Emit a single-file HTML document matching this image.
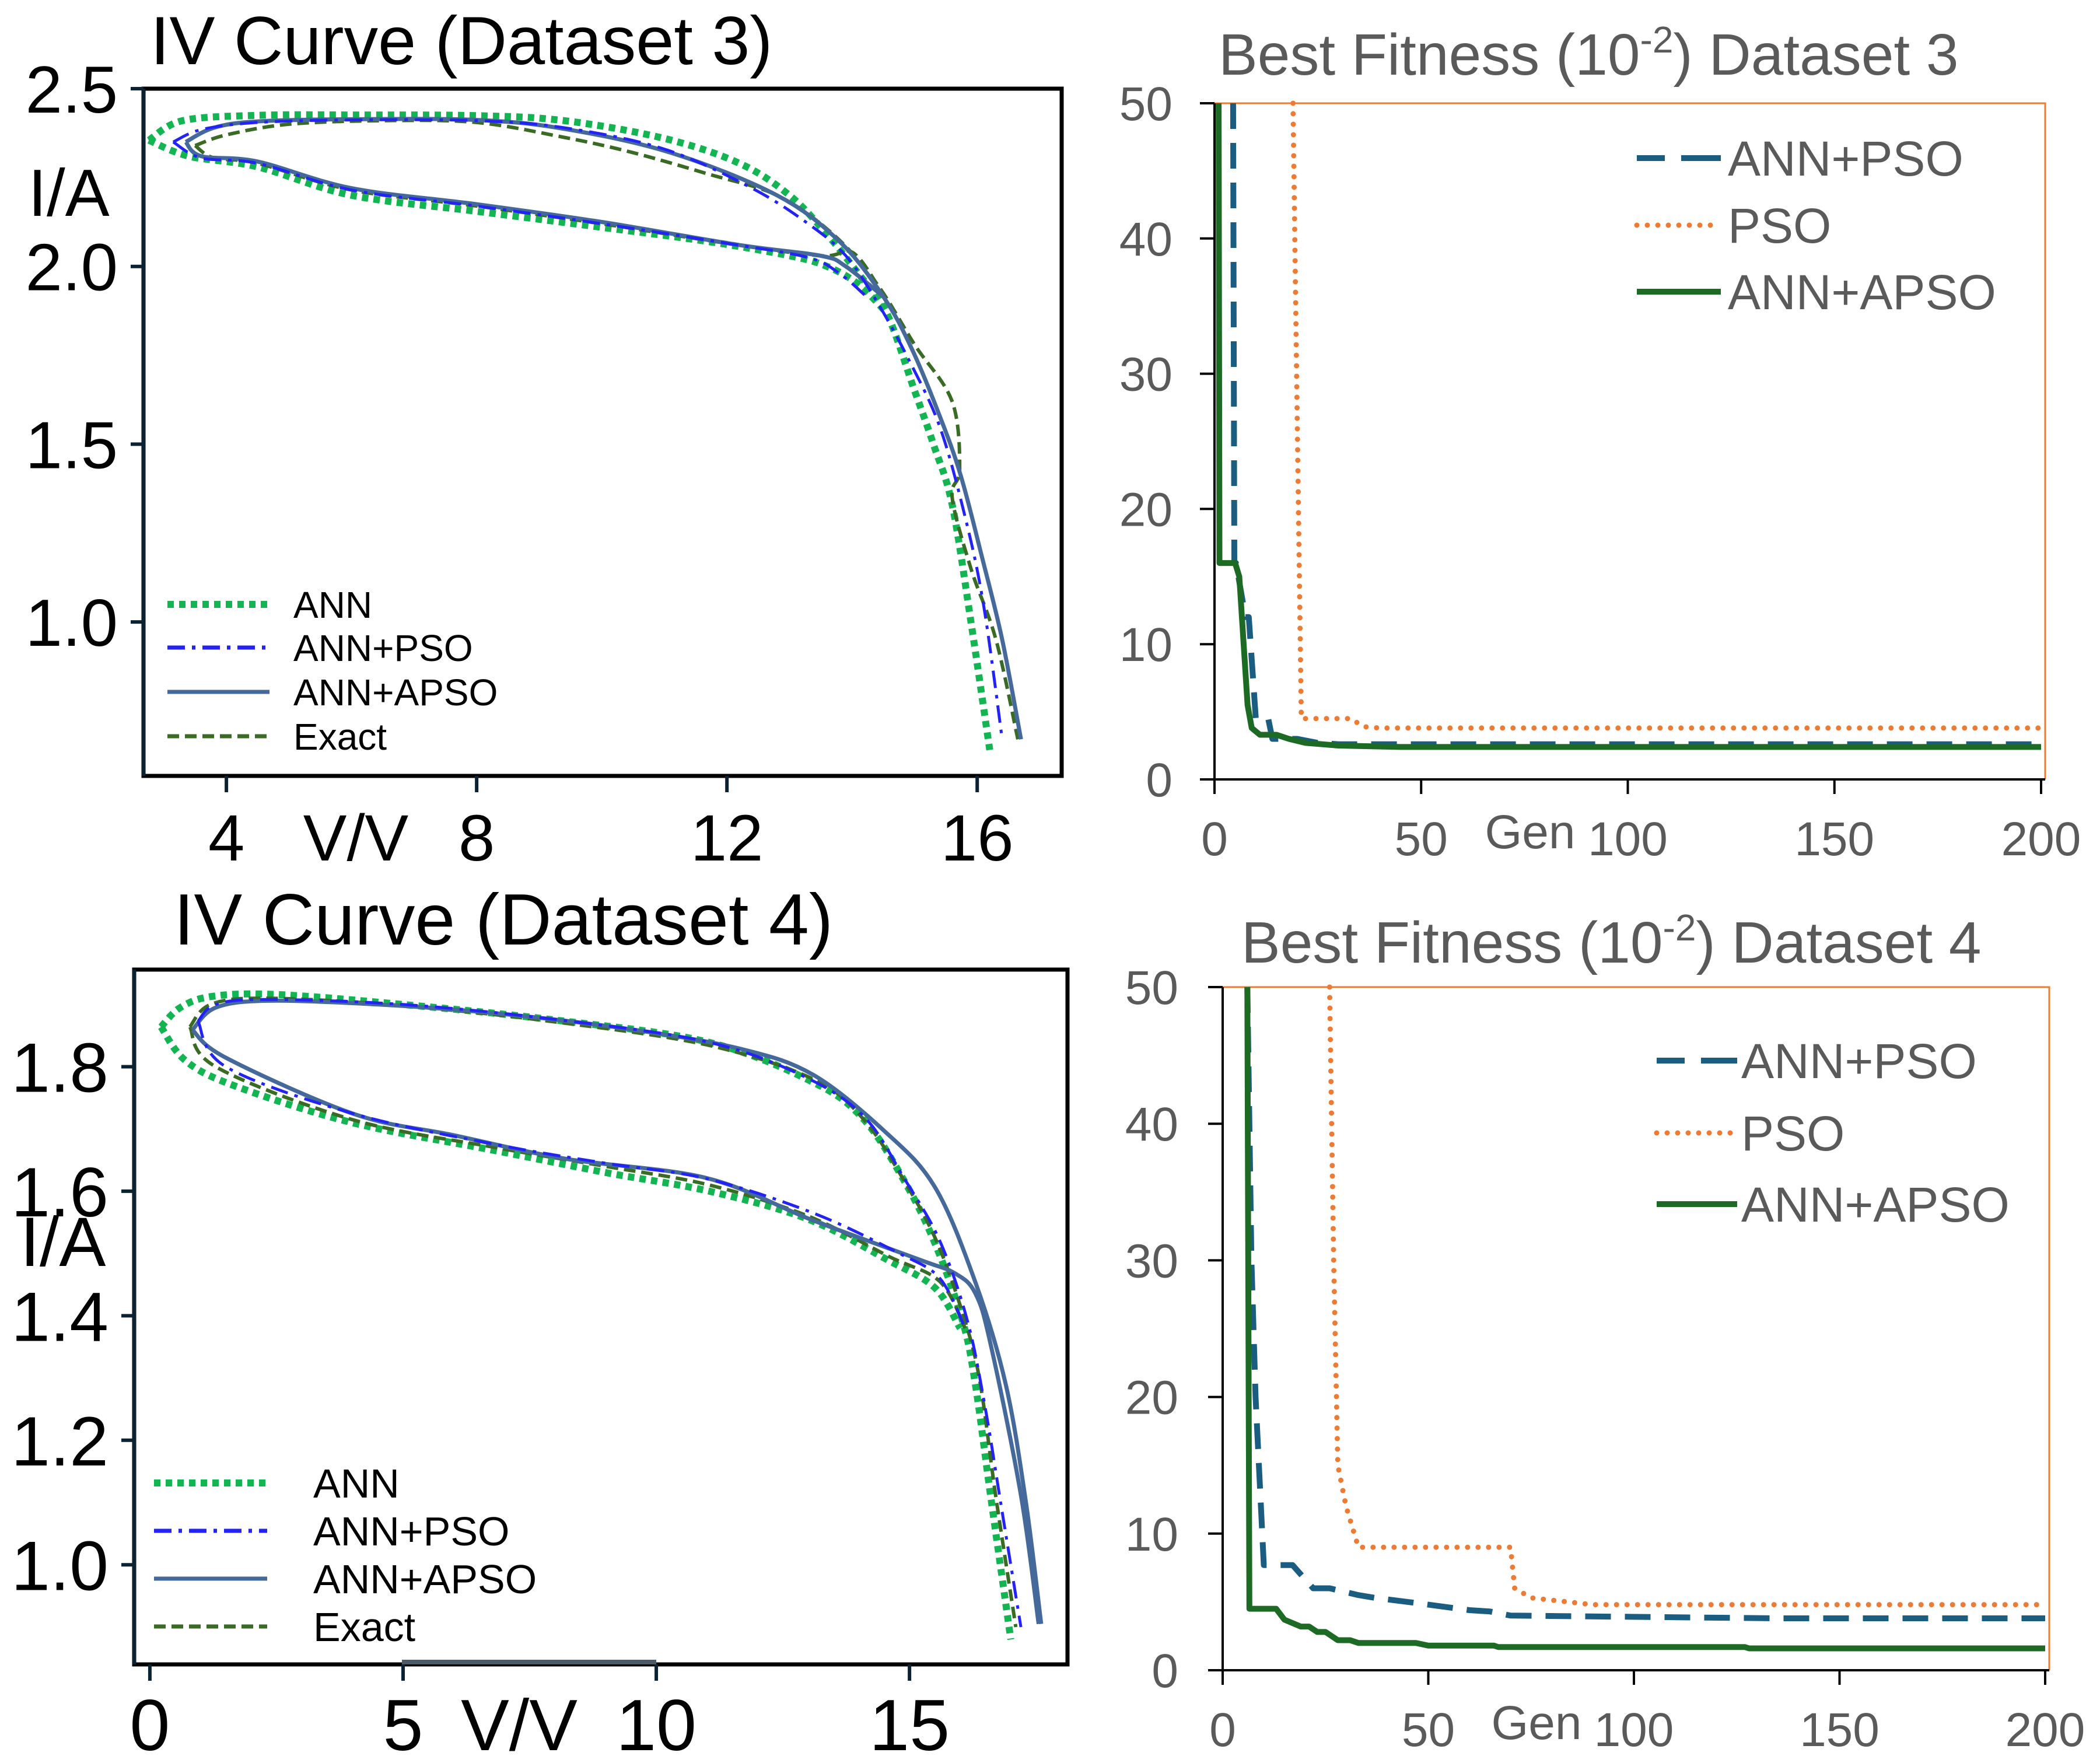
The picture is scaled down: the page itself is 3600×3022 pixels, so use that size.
<!DOCTYPE html>
<html><head><meta charset="utf-8"><title>IV Curves and Best Fitness</title>
<style>
html,body{margin:0;padding:0;background:#fff;}
svg{display:block;}
text{font-family:"Liberation Sans",Arial,sans-serif;}
</style></head>
<body>
<svg id="fig" width="3600" height="3022" viewBox="0 0 3600 3022" xmlns="http://www.w3.org/2000/svg">
<rect width="3600" height="3022" fill="#fff"/>
<g id="p1"></g>
<g id="p2"></g>
<g id="p3"></g>
<g id="p4"></g>
</svg>
<script>
// ---------- Data: IV curve dataset 3 (V, I) ----------
const ds3AnnUpperV = [2.76,3.3,4.5,6.0,8.0,9.4,11.0,12.2,13.0,13.6,14.1,14.55,15.0,15.3,15.6,15.9,16.2];
const ds3AnnUpperI = [2.355,2.41,2.425,2.426,2.424,2.41,2.36,2.29,2.2,2.09,1.98,1.87,1.65,1.5,1.33,1.0,0.64];
const ds3AnnLowerV = [2.76,3.4,4.5,6.0,8.0,10.0,11.7,13.0,13.6,14.1,14.55];
const ds3AnnLowerI = [2.355,2.31,2.28,2.2,2.155,2.11,2.07,2.03,2.0,1.95,1.87];
const ds3PsoUpperV = [3.15,3.6,4.5,6.0,8.0,9.4,11.0,12.4,13.3,13.9,14.4,14.9,15.4,15.8,16.1,16.4];
const ds3PsoUpperI = [2.35,2.385,2.405,2.412,2.41,2.39,2.33,2.22,2.12,2.03,1.9,1.74,1.55,1.3,1.05,0.67];
const ds3PsoLowerV = [3.15,3.6,4.5,6.0,8.0,10.0,12.0,13.3,13.8,14.2];
const ds3PsoLowerI = [2.35,2.305,2.29,2.215,2.17,2.12,2.065,2.025,1.98,1.92];
const ds3ApsoUpperV = [3.35,3.8,4.5,6.0,8.0,9.4,11.1,12.8,13.8,14.5,14.95,15.4,15.74,16.08,16.4,16.7];
const ds3ApsoUpperI = [2.35,2.39,2.408,2.414,2.412,2.387,2.32,2.2,2.07,1.915,1.77,1.58,1.41,1.18,0.95,0.67];
const ds3ApsoLowerV = [3.35,3.6,4.5,6.0,8.0,10.0,12.2,13.5,13.9,14.5];
const ds3ApsoLowerI = [2.35,2.31,2.295,2.22,2.175,2.125,2.06,2.03,2.0,1.915];
const ds3ExactUpperV = [3.5,4.0,5.0,6.5,8.0,9.4,10.5,11.7,12.8,13.7,14.4,15.0,15.6,15.72,15.6,15.9,16.3,16.65];
const ds3ExactUpperI = [2.34,2.37,2.4,2.41,2.405,2.363,2.32,2.26,2.2,2.09,1.95,1.78,1.62,1.43,1.35,1.15,0.95,0.67];
const ds3ExactLowerV = [3.5,3.8,4.5,6.0,8.0,10.0,12.0,13.5,14.0,14.4];
const ds3ExactLowerI = [2.34,2.305,2.29,2.215,2.17,2.12,2.065,2.03,2.04,1.95];

// ---------- Data: IV curve dataset 4 ----------
const ds4AnnUpperV = [0.22,0.6,1.23,2.5,5.0,8.0,11.0,13.1,14.1,14.9,15.5,16.05,16.3,16.6,17.0];
const ds4AnnUpperI = [1.864,1.895,1.913,1.916,1.9,1.875,1.84,1.775,1.715,1.616,1.517,1.391,1.29,1.112,0.88];
const ds4AnnLowerV = [0.22,0.7,1.65,4.0,6.84,9.0,11.05,13.0,14.56,15.5,16.0];
const ds4AnnLowerI = [1.864,1.81,1.77,1.71,1.665,1.63,1.6,1.555,1.49,1.445,1.38];
const ds4PsoUpperV = [0.95,1.3,2.3,5.0,8.0,11.0,12.9,14.1,14.9,15.6,16.15,16.5,16.8,17.2];
const ds4PsoUpperI = [1.873,1.9,1.908,1.9,1.876,1.84,1.785,1.72,1.62,1.52,1.39,1.25,1.1,0.9];
const ds4PsoLowerV = [0.95,1.5,4.0,6.84,9.0,11.0,13.1,14.8,15.6,16.1];
const ds4PsoLowerI = [1.873,1.8,1.725,1.675,1.645,1.62,1.565,1.5,1.46,1.38];
const ds4ApsoUpperV = [0.84,1.3,2.35,4.5,6.8,9.5,11.7,13.1,14.5,15.5,16.3,16.9,17.3,17.6];
const ds4ApsoUpperI = [1.859,1.895,1.906,1.9,1.886,1.86,1.828,1.787,1.697,1.607,1.454,1.29,1.1,0.905];
const ds4ApsoLowerV = [0.84,1.51,4.03,6.0,8.22,11.0,13.1,15.2,15.9,16.3,16.6,17.2,17.55];
const ds4ApsoLowerI = [1.859,1.814,1.724,1.69,1.652,1.621,1.553,1.49,1.468,1.436,1.355,1.112,0.905];
const ds4ExactUpperV = [0.79,1.2,2.3,5.0,8.0,11.0,13.1,14.1,14.9,15.55,16.1,16.4,16.7,17.1];
const ds4ExactUpperI = [1.864,1.9,1.91,1.898,1.872,1.835,1.78,1.715,1.616,1.517,1.391,1.29,1.112,0.9];
const ds4ExactLowerV = [0.79,1.3,4.0,6.84,9.0,11.05,13.0,14.6,15.6,16.1];
const ds4ExactLowerI = [1.864,1.8,1.715,1.67,1.64,1.61,1.56,1.495,1.455,1.38];

// ---------- Data: Best fitness dataset 3 (generation, fitness) ----------
const fit3PsoGen = [19,20,21,33,36,40,200];
const fit3PsoVal = [50,27,4.5,4.5,3.9,3.8,3.8];
const fit3AnnPsoGen = [4.5,4.8,5.2,7.5,8.3,10,13,14,20,25,30,200];
const fit3AnnPsoVal = [50,16,16,12,12,4.5,4.5,3,3,2.7,2.6,2.6];
const fit3ApsoGen = [1,1.2,5,6,8,9,11,15,18,22,30,45,200];
const fit3ApsoVal = [50,16,16,15,5.5,3.8,3.3,3.3,3,2.7,2.5,2.4,2.4];

// ---------- Data: Best fitness dataset 4 ----------
const fit4PsoGen = [26,27,28,30,32,33,70,71,75,90,200];
const fit4PsoVal = [50,30,15,12,10,9,9,6,5.3,4.8,4.8];
const fit4AnnPsoGen = [6,7,8,10,17,22,26,33,37,45,50,60,65,70,135,200];
const fit4AnnPsoVal = [50,30,20,7.7,7.7,6,6,5.5,5.3,5,4.8,4.4,4.3,4,3.8,3.8];
const fit4ApsoGen = [6,6.5,13,15,19,21,23,25,28,31,33,47,50,66,67,127,128,200];
const fit4ApsoVal = [50,4.5,4.5,3.7,3.2,3.2,2.8,2.8,2.2,2.2,2.0,2.0,1.8,1.8,1.7,1.7,1.6,1.6];

// ---------- Tick labels ----------
const ds3XTicks = [4,8,12,16];
const ds3YTicks = ["1.0","1.5","2.0","2.5"];
const ds4XTicks = [0,5,10,15];
const ds4YTicks = ["1.0","1.2","1.4","1.6","1.8"];
const fitXTicks = [0,50,100,150,200];
const fitYTicks = [0,10,20,30,40,50];

const NS = "http://www.w3.org/2000/svg";
function mk(parent, tag, attrs, text){
  const e = document.createElementNS(NS, tag);
  for (const k in attrs) e.setAttribute(k, attrs[k]);
  if (text !== undefined) e.textContent = text;
  parent.appendChild(e);
  return e;
}
function lin(d0,d1,r0,r1){ return v => r0 + (v-d0)/(d1-d0)*(r1-r0); }
function smoothPath(pts){
  if (pts.length < 3) return "M" + pts.map(p=>p.join(",")).join("L");
  let d = "M" + pts[0][0].toFixed(1) + "," + pts[0][1].toFixed(1);
  for (let i=0;i<pts.length-1;i++){
    const p0 = pts[Math.max(0,i-1)], p1 = pts[i], p2 = pts[i+1], p3 = pts[Math.min(pts.length-1,i+2)];
    const c1x = p1[0]+(p2[0]-p0[0])/6, c1y = p1[1]+(p2[1]-p0[1])/6;
    const c2x = p2[0]-(p3[0]-p1[0])/6, c2y = p2[1]-(p3[1]-p1[1])/6;
    d += "C"+c1x.toFixed(1)+","+c1y.toFixed(1)+" "+c2x.toFixed(1)+","+c2y.toFixed(1)+" "+p2[0].toFixed(1)+","+p2[1].toFixed(1);
  }
  return d;
}
function stepPath(xs, ys, sx, sy){
  return "M" + xs.map((x,i)=>sx(x).toFixed(1)+","+sy(ys[i]).toFixed(1)).join("L");
}

const ivStyles = {
  ann:   {stroke:"#13b553", w:12, dash:"11 9"},
  pso:   {stroke:"#2323f5", w:5, dash:"30 12 6 12"},
  apso:  {stroke:"#44699a", w:7, dash:""},
  exact: {stroke:"#3a6b24", w:6, dash:"20 10"}
};

function ivChart(g, cfg){
  const sx = lin(cfg.xmin, cfg.xmax, cfg.L, cfg.R);
  const sy = lin(cfg.ymin, cfg.ymax, cfg.B, cfg.T);
  const t = mk(g,"text",{x:cfg.titleX,y:cfg.titleY,"font-size":cfg.titleSize,fill:"#000"},cfg.title);
  
  
  for (const s of cfg.series){
    const st = ivStyles[s.key];
    for (const br of [[s.uv,s.ui],[s.lv,s.li]]){
      const pts = br[0].map((v,i)=>[sx(v), sy(br[1][i])]);
      const p = mk(g,"path",{d:smoothPath(pts),fill:"none",stroke:st.stroke,"stroke-width":st.w,"stroke-linejoin":"round"});
      if (st.dash) p.setAttribute("stroke-dasharray", st.dash);
      
      
    }
  }
  const fr = mk(g,"rect",{x:cfg.L,y:cfg.T,width:cfg.R-cfg.L,height:cfg.B-cfg.T,fill:"none",stroke:"#000","stroke-width":7});
  
  
  mk(g,"line",{x1:cfg.L,y1:cfg.T,x2:cfg.L,y2:cfg.B,stroke:"#0b2233","stroke-width":6});
  cfg.yTicks.forEach(lab=>{
    const y = sy(parseFloat(lab));
    mk(g,"line",{x1:cfg.L-22,y1:y,x2:cfg.L,y2:y,stroke:"#0b2233","stroke-width":6});
    const tx = mk(g,"text",{x:cfg.yLabX,y:y+cfg.yFont*0.36,"font-size":cfg.yFont,"text-anchor":"end",fill:"#000"},lab);
    
    
  });
  cfg.xTicks.forEach(v=>{
    const x = sx(v);
    mk(g,"line",{x1:x,y1:cfg.B,x2:x,y2:cfg.B+28,stroke:"#0b2233","stroke-width":6});
    const tx = mk(g,"text",{x:x,y:cfg.xLabY,"font-size":cfg.xFont,"text-anchor":"middle",fill:"#000"},String(v));
    
    
  });
  const xa = mk(g,"text",{x:cfg.xAxX,y:cfg.xLabY,"font-size":cfg.xFont,"text-anchor":"middle",fill:"#000"},"V/V");
  
  
  const ya = mk(g,"text",{x:cfg.yAxX,y:cfg.yAxY,"font-size":cfg.yFont,"text-anchor":"middle",fill:"#000"},"I/A");
  
  
  const names = ["ANN","ANN+PSO","ANN+APSO","Exact"];
  const keys = ["ann","pso","apso","exact"];
  keys.forEach((k,i)=>{
    const y = cfg.legY[i], st = ivStyles[k];
    const ln = mk(g,"line",{x1:cfg.legX0,y1:y,x2:cfg.legX1,y2:y,stroke:st.stroke,"stroke-width":Math.max(st.w,7)});
    if (st.dash) ln.setAttribute("stroke-dasharray", st.dash);
    
    
    const tx = mk(g,"text",{x:cfg.legTX,y:y+cfg.legFont*0.36,"font-size":cfg.legFont,fill:"#000"},names[i]);
    
    
  });
}

const fitStyles = {
  annpso: {stroke:"#1a5d80", w:10, dash:"44 24"},
  pso:    {stroke:"#ee7b33", w:9, dash:"0 18", cap:"round"},
  apso:   {stroke:"#1d6a25", w:10, dash:""}
};
function fitChart(g, cfg){
  const sx = lin(0,200,cfg.L,cfg.X200);
  const sy = lin(0,50,cfg.B,cfg.T);
  const gray = "#5a5a5a";
  const t = mk(g,"text",{x:cfg.titleX,y:cfg.titleY,"font-size":100,fill:gray});
  
  
  t.innerHTML = 'Best Fitness (10<tspan dy="-38" font-size="64">-2</tspan><tspan dy="38">) Dataset '+cfg.ds+'</tspan>';
  mk(g,"polyline",{points:cfg.L+","+cfg.T+" "+cfg.R+","+cfg.T+" "+cfg.R+","+cfg.B,fill:"none",stroke:"#ee7b33","stroke-width":3});
  const ser = [["pso",cfg.pso],["annpso",cfg.annpso],["apso",cfg.apso]];
  for (const [k,d] of ser){
    const st = fitStyles[k];
    const p = mk(g,"path",{d:stepPath(d[0],d[1],sx,sy),fill:"none",stroke:st.stroke,"stroke-width":st.w,"stroke-linejoin":"round"});
    if (st.dash) p.setAttribute("stroke-dasharray",st.dash);
    if (st.cap) p.setAttribute("stroke-linecap",st.cap);
    
    
  }
  mk(g,"line",{x1:cfg.L,y1:cfg.T,x2:cfg.L,y2:cfg.B,stroke:"#000","stroke-width":4});
  mk(g,"line",{x1:cfg.L-25,y1:cfg.B,x2:cfg.R,y2:cfg.B,stroke:"#000","stroke-width":4});
  fitYTicks.forEach(v=>{
    const y = sy(v);
    mk(g,"line",{x1:cfg.L-25,y1:y,x2:cfg.L,y2:y,stroke:"#000","stroke-width":4});
    const tx = mk(g,"text",{x:cfg.yLabX,y:y+29,"font-size":82,"text-anchor":"end",fill:gray},String(v));
    
    
  });
  fitXTicks.forEach(v=>{
    const x = sx(v);
    mk(g,"line",{x1:x,y1:cfg.B,x2:x,y2:cfg.B+25,stroke:"#000","stroke-width":4});
    const tx = mk(g,"text",{x:x,y:cfg.xLabY,"font-size":82,"text-anchor":"middle",fill:gray},String(v));
    
    
  });
  const gx = mk(g,"text",{x:cfg.genX,y:cfg.xLabY-12,"font-size":82,"text-anchor":"middle",fill:gray},"Gen");
  
  
  const names = ["ANN+PSO","PSO","ANN+APSO"], keys=["annpso","pso","apso"];
  keys.forEach((k,i)=>{
    const y = cfg.legY[i], st = fitStyles[k];
    const ln = mk(g,"line",{x1:cfg.legX0,y1:y,x2:cfg.legX1,y2:y,stroke:st.stroke,"stroke-width":st.w});
    if (st.dash) ln.setAttribute("stroke-dasharray", k==="annpso" ? "48 28 80" : st.dash);
    if (st.cap) ln.setAttribute("stroke-linecap",st.cap);
    
    
    const tx = mk(g,"text",{x:cfg.legTX,y:y+30,"font-size":84,fill:gray},names[i]);
    
    
  });
}

ivChart(document.getElementById("p1"),{
  L:246,R:1820,T:152,B:1330,xmin:2.675,xmax:17.35,ymin:0.567,ymax:2.5,
  title:"IV Curve (Dataset 3)",titleX:258,titleY:110,titleSize:117,
  yTicks:ds3YTicks,xTicks:ds3XTicks,yLabX:202,yFont:114,xFont:112,xLabY:1475,xAxX:610,yAxX:118,yAxY:370,
  legX0:287,legX1:462,legY:[1036,1110,1186,1262],legTX:503,legFont:64,
  series:[
    {key:"ann",uv:ds3AnnUpperV,ui:ds3AnnUpperI,lv:ds3AnnLowerV,li:ds3AnnLowerI},
    {key:"exact",uv:ds3ExactUpperV,ui:ds3ExactUpperI,lv:ds3ExactLowerV,li:ds3ExactLowerI},
    {key:"apso",uv:ds3ApsoUpperV,ui:ds3ApsoUpperI,lv:ds3ApsoLowerV,li:ds3ApsoLowerI},
    {key:"pso",uv:ds3PsoUpperV,ui:ds3PsoUpperI,lv:ds3PsoLowerV,li:ds3PsoLowerI}
  ]
});
ivChart(document.getElementById("p3"),{
  L:230,R:1830,T:1662,B:2853,xmin:-0.31,xmax:18.12,ymin:0.84,ymax:1.956,
  title:"IV Curve (Dataset 4)",titleX:298,titleY:1619,titleSize:124,
  yTicks:ds4YTicks,xTicks:ds4XTicks,yLabX:186,yFont:120,xFont:124,xLabY:3000,xAxX:890,yAxX:108,yAxY:2170,
  legX0:264,legX1:458,legY:[2542,2624,2706,2788],legTX:537,legFont:70,
  series:[
    {key:"ann",uv:ds4AnnUpperV,ui:ds4AnnUpperI,lv:ds4AnnLowerV,li:ds4AnnLowerI},
    {key:"exact",uv:ds4ExactUpperV,ui:ds4ExactUpperI,lv:ds4ExactLowerV,li:ds4ExactLowerI},
    {key:"apso",uv:ds4ApsoUpperV,ui:ds4ApsoUpperI,lv:ds4ApsoLowerV,li:ds4ApsoLowerI},
    {key:"pso",uv:ds4PsoUpperV,ui:ds4PsoUpperI,lv:ds4PsoLowerV,li:ds4PsoLowerI}
  ]
});
mk(document.getElementById("p3"),"line",{x1:689,y1:2849,x2:1125,y2:2849,stroke:"#4a5a66","stroke-width":8});

fitChart(document.getElementById("p2"),{
  L:2082,R:3506,T:177,B:1336,X200:3499,ds:3,titleX:2089,titleY:128,yLabX:2010,xLabY:1466,genX:2623,
  legX0:2806,legX1:2950,legY:[271,386,500],legTX:2962,
  pso:[fit3PsoGen,fit3PsoVal],annpso:[fit3AnnPsoGen,fit3AnnPsoVal],apso:[fit3ApsoGen,fit3ApsoVal]
});
fitChart(document.getElementById("p4"),{
  L:2096,R:3513,T:1692,B:2863,X200:3506,ds:4,titleX:2128,titleY:1650,yLabX:2020,xLabY:2993,genX:2634,
  legX0:2840,legX1:2978,legY:[1818,1942,2064],legTX:2985,
  pso:[fit4PsoGen,fit4PsoVal],annpso:[fit4AnnPsoGen,fit4AnnPsoVal],apso:[fit4ApsoGen,fit4ApsoVal]
});
</script>
</body></html>
